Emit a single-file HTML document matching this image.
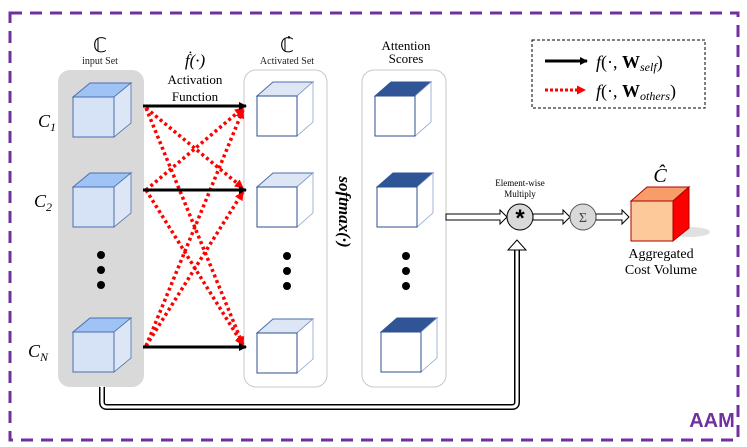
<!DOCTYPE html>
<html><head><meta charset="utf-8"><style>body{margin:0;background:#fff}svg{display:block}text{font-family:"Liberation Serif","DejaVu Serif",serif}</style></head><body>
<svg width="747" height="447" viewBox="0 0 747 447" xmlns="http://www.w3.org/2000/svg">
<defs>
<marker id="ab" markerWidth="8" markerHeight="8" refX="7" refY="4" orient="auto" markerUnits="userSpaceOnUse"><path d="M0,0 L8,4 L0,8 z" fill="#000"/></marker>
<marker id="ar" markerWidth="9" markerHeight="9" refX="8" refY="4.5" orient="auto" markerUnits="userSpaceOnUse"><path d="M0,0 L9,4.5 L0,9 z" fill="#f00"/></marker>
<g id="cin"><polygon points="0,14 17,0 58,0 41,14" fill="#9fc3f5" stroke="#4a6fae"/><polygon points="41,14 58,0 58,40 41,54" fill="#dce6f5" stroke="#4a6fae" stroke-width="0.8"/><rect x="0" y="14" width="41" height="40" fill="#d6e2f5" stroke="#4a6fae"/></g>
<g id="cact"><polygon points="0,14 16,0 56,0 40,14" fill="#dce6f5" stroke="#4a6fae"/><polygon points="40,14 56,0 56,40 40,54" fill="#fff" stroke="#8aa2cc" stroke-width="0.8"/><rect x="0" y="14" width="40" height="40" fill="#fff" stroke="#2f4f8f"/></g>
<g id="catt"><polygon points="0,14 16,0 56,0 40,14" fill="#2f5597" stroke="#2f5597"/><polygon points="40,14 56,0 56,40 40,54" fill="#fff" stroke="#8aa2cc" stroke-width="0.8"/><rect x="0" y="14" width="40" height="40" fill="#fff" stroke="#2f4f8f"/></g>
</defs>
<rect x="10" y="13" width="728" height="427" fill="none" stroke="#7030a0" stroke-width="3" stroke-dasharray="12,8"/>
<text x="712" y="427" font-weight="bold" font-size="20" fill="#7030a0" text-anchor="middle" style="font-family:'Liberation Sans',sans-serif">AAM</text>
<rect x="58" y="70" width="86" height="317" rx="12" fill="#d9d9d9"/>
<rect x="244" y="70" width="83" height="317" rx="12" fill="#fff" stroke="#c8c8c8"/>
<rect x="362" y="70" width="84" height="317" rx="12" fill="#fff" stroke="#c8c8c8"/>
<use href="#cin" x="73" y="83"/><use href="#cin" x="73" y="173"/><use href="#cin" x="73" y="318"/>
<use href="#cact" x="257" y="82"/><use href="#cact" x="257" y="173"/><use href="#cact" x="257" y="319"/>
<use href="#catt" x="375" y="82"/><use href="#catt" x="377" y="173"/><use href="#catt" x="381" y="318"/>
<g fill="#000"><circle cx="101" cy="255" r="4"/><circle cx="101" cy="270" r="4"/><circle cx="101" cy="285" r="4"/>
<circle cx="287" cy="256" r="4"/><circle cx="287" cy="271" r="4"/><circle cx="287" cy="286" r="4"/>
<circle cx="406" cy="256" r="4"/><circle cx="406" cy="271" r="4"/><circle cx="406" cy="286" r="4"/></g>
<g stroke="#f00" stroke-width="3.5" stroke-dasharray="3,3" fill="none">
<line x1="146" y1="108" x2="243" y2="188" marker-end="url(#ar)"/>
<line x1="146" y1="108" x2="243" y2="345" marker-end="url(#ar)"/>
<line x1="146" y1="190" x2="243" y2="108" marker-end="url(#ar)"/>
<line x1="146" y1="190" x2="243" y2="345" marker-end="url(#ar)"/>
<line x1="146" y1="346" x2="243" y2="110" marker-end="url(#ar)"/>
<line x1="146" y1="346" x2="243" y2="192" marker-end="url(#ar)"/>
</g>
<g stroke="#000" stroke-width="3"><line x1="143" y1="106" x2="246" y2="106" marker-end="url(#ab)"/><line x1="143" y1="190" x2="246" y2="190" marker-end="url(#ab)"/><line x1="143" y1="347" x2="246" y2="347" marker-end="url(#ab)"/></g>
<text x="100" y="52" font-size="20" text-anchor="middle" style="font-family:'DejaVu Sans',sans-serif">ℂ</text>
<text x="100" y="64" font-size="10" text-anchor="middle" fill="#222">input Set</text>
<text x="195" y="66" font-size="17" font-style="italic" text-anchor="middle">ḟ(·)</text>
<text x="195" y="84" font-size="13" text-anchor="middle">Activation</text>
<text x="195" y="101" font-size="13" text-anchor="middle">Function</text>
<text x="287" y="52" font-size="20" text-anchor="middle" style="font-family:'DejaVu Sans',sans-serif">ℂ̇</text>
<text x="287" y="64" font-size="10" text-anchor="middle" fill="#222">Activated Set</text>
<text x="406" y="50" font-size="13" text-anchor="middle">Attention</text>
<text x="406" y="63" font-size="13" text-anchor="middle">Scores</text>
<text x="38" y="127" font-size="18" font-style="italic">C<tspan font-size="12" dy="4">1</tspan></text>
<text x="34" y="207" font-size="18" font-style="italic">C<tspan font-size="12" dy="4">2</tspan></text>
<text x="28" y="357" font-size="18" font-style="italic">C<tspan font-size="12" dy="4">N</tspan></text>
<text transform="translate(339,212) rotate(90)" font-size="17" font-weight="bold" font-style="italic" text-anchor="middle">softmax(·)</text>
<rect x="532" y="40" width="173" height="68" fill="#fff" stroke="#000" stroke-dasharray="3,2"/>
<line x1="545" y1="61" x2="587" y2="61" stroke="#000" stroke-width="3" marker-end="url(#ab)"/>
<line x1="545" y1="90" x2="585" y2="90" stroke="#f00" stroke-width="3" stroke-dasharray="3,2" marker-end="url(#ar)"/>
<text x="596" y="68" font-size="18"><tspan font-style="italic">f</tspan>(·, <tspan font-weight="bold">W</tspan><tspan font-style="italic" font-size="12" dy="3">self</tspan><tspan dy="-3">)</tspan></text>
<text x="596" y="97" font-size="18"><tspan font-style="italic">f</tspan>(·, <tspan font-weight="bold">W</tspan><tspan font-style="italic" font-size="12" dy="3">others</tspan><tspan dy="-3">)</tspan></text>
<g fill="#fff" stroke="#000" stroke-width="1">
<polygon points="446,214 500,214 500,210 507,217 500,224 500,220 446,220"/>
<polygon points="533,214 563,214 563,210 570,217 563,224 563,220 533,220"/>
<polygon points="596,214 622,214 622,210 629,217 622,224 622,220 596,220"/>
</g>
<path d="M102,387 V402 Q102,407 107,407 H512 Q517,407 517,402 V248" fill="none" stroke="#000" stroke-width="6"/>
<path d="M102,386 V402 Q102,407 107,407 H512 Q517,407 517,402 V246" fill="none" stroke="#fff" stroke-width="3"/>
<polygon points="508,250 517,240 526,250" fill="#fff" stroke="#000"/>
<circle cx="520" cy="217" r="13" fill="#d9d9d9" stroke="#000"/>
<text x="520" y="226" font-size="24" font-weight="bold" text-anchor="middle" style="font-family:'Liberation Sans',sans-serif">*</text>
<circle cx="583" cy="217" r="13" fill="#d9d9d9" stroke="#555"/>
<text x="583" y="222" font-size="14" text-anchor="middle" fill="#444">Σ</text>
<text x="520" y="186" font-size="9" text-anchor="middle">Element-wise</text>
<text x="520" y="197" font-size="9" text-anchor="middle">Multiply</text>
<ellipse cx="690" cy="232" rx="20" ry="5" fill="#ccc" opacity="0.6"/>
<polygon points="631,201 647,187 689,187 673,201" fill="#f79d6a" stroke="#a00"/>
<polygon points="673,201 689,187 689,228 673,241" fill="#f00" stroke="#a00"/>
<rect x="631" y="201" width="42" height="40" fill="#fdc99a" stroke="#a00"/>
<text x="660" y="182" font-size="20" font-style="italic" text-anchor="middle">Ĉ</text>
<text x="661" y="258" font-size="14" text-anchor="middle">Aggregated</text>
<text x="661" y="274" font-size="14" text-anchor="middle">Cost Volume</text>
</svg>
</body></html>
